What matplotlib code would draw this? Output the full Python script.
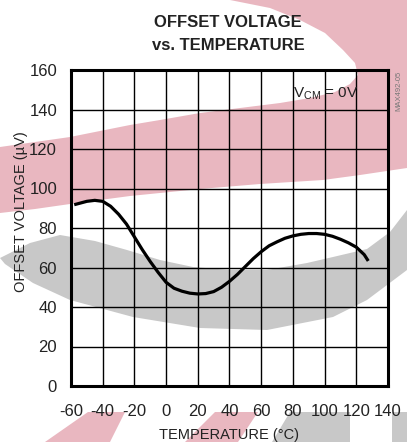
import matplotlib.pyplot as plt
from matplotlib.patches import Polygon

plt.rcParams['font.family'] = ['Liberation Sans', 'DejaVu Sans']
plt.rcParams['mathtext.fontset'] = 'custom'
plt.rcParams['mathtext.rm'] = 'Liberation Sans'
plt.rcParams['axes.unicode_minus'] = False

# Offset voltage (uV) versus temperature (C), VCM = 0V
temperature = [-57, -50, -45, -40, -35, -30, -25, -20, -15, -10, -5, 0, 5, 10,
               15, 20, 25, 30, 35, 40, 45, 50, 55, 60, 65, 70, 75, 80, 85, 90,
               95, 100, 105, 110, 115, 120, 125, 127]
offset_uv = [92, 93.5, 94, 93.5, 91, 87, 82, 75.5, 69, 63, 57.5, 52.5, 49.5, 48,
             47, 46.6, 46.8, 47.8, 50, 53, 56.5, 60.5, 64.5, 68, 71, 73, 74.8, 76, 76.8, 77.2,
             77.2, 76.8, 75.8, 74.3, 72.5, 70.3, 66.5, 64]

x_ticks = [-60, -40, -20, 0, 20, 40, 60, 80, 100, 120, 140]
y_ticks = [0, 20, 40, 60, 80, 100, 120, 140, 160]

W, H = 407, 442
fig = plt.figure(figsize=(W / 100, H / 100), dpi=100)


def px(points):
    # pixel coords (origin top-left) -> figure fraction
    return [(x / W, 1 - y / H) for x, y in points]


# logo swooshes printed behind the graph
pink = '#e9b7c0'
grey = '#c8c8c8'
swooshes = [
    ([(230, 0), (270, 8), (300, 20), (325, 33), (343, 50), (355, 63), (358, 75),
      (350, 84), (335, 92), (310, 98), (280, 103), (240, 108), (200, 113),
      (160, 120), (130, 125), (100, 131), (70, 137), (35, 142), (0, 147),
      (0, 213), (35, 209), (70, 204), (130, 196), (200, 189), (260, 184),
      (323, 180), (360, 175), (407, 168), (407, 0)], pink),
    ([(0, 258), (30, 243), (60, 235), (95, 241), (127, 250), (160, 260),
      (193, 267), (230, 270), (267, 270), (307, 263), (333, 257), (367, 249),
      (390, 232), (407, 210), (407, 270), (367, 300), (333, 317), (267, 330),
      (200, 328), (133, 317), (70, 300), (33, 283), (5, 264)], grey),
    ([(45, 442), (88, 412), (125, 412), (110, 442)], pink),
    ([(185, 442), (215, 412), (258, 412), (238, 442)], pink),
    ([(272, 442), (290, 412), (350, 412), (350, 442)], grey),
    ([(392, 412), (407, 412), (407, 442), (392, 442)], grey),
]
for pts, col in swooshes:
    fig.patches.append(Polygon(px(pts), closed=True, transform=fig.transFigure,
                               facecolor=col, edgecolor='none', zorder=-5))

ax = fig.add_axes([71 / W, 1 - 386 / H, 317 / W, 316 / H])
ax.set_facecolor('none')
ax.plot(temperature, offset_uv, color='black', lw=2.3)

ax.set_xlim(-60, 140)
ax.set_ylim(0, 160)
ax.set_xticks(x_ticks)
ax.set_yticks(y_ticks)
ax.grid(True, color='black', lw=1.0)
ax.set_axisbelow(True)
ax.tick_params(length=0, labelsize=12, labelcolor='#222222')
ax.tick_params(axis='x', pad=13)
ax.tick_params(axis='y', pad=10)
for s in ax.spines.values():
    s.set_linewidth(2.2)

fig.text(228 / W, 1 - 27 / H, 'OFFSET VOLTAGE', fontsize=12, weight='bold',
         ha='center', va='baseline', color='#222222')
fig.text(228 / W, 1 - 50 / H, 'vs. TEMPERATURE', fontsize=12, weight='bold',
         ha='center', va='baseline', color='#222222')
fig.text(229 / W, 1 - 439 / H, 'TEMPERATURE (°C)', fontsize=10.5,
         ha='center', va='baseline', color='#222222')
fig.text(25 / W, 1 - 212 / H, 'OFFSET VOLTAGE (µV)', fontsize=10.5, rotation=90,
         rotation_mode='anchor', ha='center', va='baseline', color='#222222')
fig.text(293 / W, 1 - 97 / H, r'V$_{\mathrm{CM}}$ = 0V', fontsize=11,
         ha='left', va='baseline', color='#222222')
fig.text(399 / W, 1 - 91 / H, 'MAX492-05', fontsize=5.5, rotation=90,
         ha='center', va='center', color='#777777')

fig.savefig('out.png', dpi=100)
